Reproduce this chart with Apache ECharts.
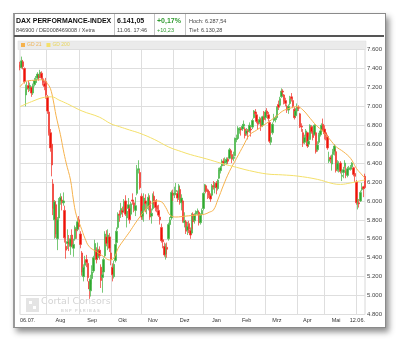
<!DOCTYPE html>
<html>
<head>
<meta charset="utf-8">
<script src="https://cdn.jsdelivr.net/npm/echarts@6/dist/echarts.min.js"></script>
<style>
html,body{margin:0;padding:0;background:#fff;width:400px;height:342px;overflow:hidden;font-family:Arial,"Liberation Sans",sans-serif;}
#card{position:absolute;left:13px;top:13px;width:370px;height:313px;background:#fff;border:1px solid #8a8a8a;border-left:2px solid #9a9a9a;box-shadow:3px 4px 6px rgba(0,0,0,.45);}
#head{position:absolute;left:14px;top:14px;width:370px;height:21px;border-bottom:2px solid #555;z-index:3;}
.cell{position:absolute;top:0;height:21px;border-right:1px solid #c4c4c4;}
.t1{position:absolute;left:2px;top:3px;font-weight:bold;font-size:7px;line-height:8px;color:#111;white-space:nowrap;}
.t2{position:absolute;left:2px;top:12.5px;font-size:5.5px;line-height:6px;color:#444;white-space:nowrap;}
.up{color:#2f9a2f;}
#chart{position:absolute;left:0;top:0;width:400px;height:342px;z-index:2;}
</style>
</head>
<body>
<div id="card"></div>
<div id="head">
  <div class="cell" style="left:0;width:100px;">
    <div class="t1">DAX PERFORMANCE-INDEX</div>
    <div class="t2">846900 / DE0008469008 / Xetra</div>
  </div>
  <div class="cell" style="left:101px;width:39px;">
    <div class="t1">6.141,05</div>
    <div class="t2">11.06. 17:46</div>
  </div>
  <div class="cell" style="left:141px;width:30px;">
    <div class="t1 up">+0,17%</div>
    <div class="t2 up">+10,23</div>
  </div>
  <div style="position:absolute;left:173px;top:0;width:150px;height:21px;">
    <div class="t2" style="top:4px;">Hoch: 6.287,54</div>
    <div class="t2" style="top:12.5px;">Tief: 6.130,28</div>
  </div>
</div>
<div id="chart"></div>
<script>
// Xetra sessions, 06.07.2011 - 11.06.2012
const sessions = [
'06.07.','07.07.','08.07.','11.07.','12.07.','13.07.','14.07.','15.07.','18.07.','19.07.','20.07.','21.07.','22.07.','25.07.','26.07.','27.07.','28.07.','29.07.',
'01.08.','02.08.','03.08.','04.08.','05.08.','08.08.','09.08.','10.08.','11.08.','12.08.','15.08.','16.08.','17.08.','18.08.','19.08.','22.08.','23.08.','24.08.','25.08.','26.08.','29.08.','30.08.','31.08.',
'01.09.','02.09.','05.09.','06.09.','07.09.','08.09.','09.09.','12.09.','13.09.','14.09.','15.09.','16.09.','19.09.','20.09.','21.09.','22.09.','23.09.','26.09.','27.09.','28.09.','29.09.','30.09.',
'03.10.','04.10.','05.10.','06.10.','07.10.','10.10.','11.10.','12.10.','13.10.','14.10.','17.10.','18.10.','19.10.','20.10.','21.10.','24.10.','25.10.','26.10.','27.10.','28.10.','31.10.',
'01.11.','02.11.','03.11.','04.11.','07.11.','08.11.','09.11.','10.11.','11.11.','14.11.','15.11.','16.11.','17.11.','18.11.','21.11.','22.11.','23.11.','24.11.','25.11.','28.11.','29.11.','30.11.',
'01.12.','02.12.','05.12.','06.12.','07.12.','08.12.','09.12.','12.12.','13.12.','14.12.','15.12.','16.12.','19.12.','20.12.','21.12.','22.12.','23.12.','27.12.','28.12.','29.12.','30.12.',
'02.01.','03.01.','04.01.','05.01.','06.01.','09.01.','10.01.','11.01.','12.01.','13.01.','16.01.','17.01.','18.01.','19.01.','20.01.','23.01.','24.01.','25.01.','26.01.','27.01.','30.01.','31.01.',
'01.02.','02.02.','03.02.','06.02.','07.02.','08.02.','09.02.','10.02.','13.02.','14.02.','15.02.','16.02.','17.02.','20.02.','21.02.','22.02.','23.02.','24.02.','27.02.','28.02.','29.02.',
'01.03.','02.03.','05.03.','06.03.','07.03.','08.03.','09.03.','12.03.','13.03.','14.03.','15.03.','16.03.','19.03.','20.03.','21.03.','22.03.','23.03.','26.03.','27.03.','28.03.','29.03.','30.03.',
'02.04.','03.04.','04.04.','05.04.','10.04.','11.04.','12.04.','13.04.','16.04.','17.04.','18.04.','19.04.','20.04.','23.04.','24.04.','25.04.','26.04.','27.04.','30.04.',
'02.05.','03.05.','04.05.','07.05.','08.05.','09.05.','10.05.','11.05.','14.05.','15.05.','16.05.','17.05.','18.05.','21.05.','22.05.','23.05.','24.05.','25.05.','28.05.','29.05.','30.05.','31.05.',
'01.06.','04.06.','05.06.','06.06.','07.06.','08.06.','11.06.'
];

const opens = [
7440,7410,7470,7400,7120,7180,7220,7180,7200,7140,7230,7250,7300,7320,7320,7350,7290,7240,
7260,7100,6940,6720,6600,6180,5800,5960,5600,5820,6000,6010,5980,5900,5520,5550,5560,5520,5640,5500,5600,5700,5700,
5800,5650,5450,5200,5320,5380,5340,5150,5050,5180,5260,5420,5480,5400,5480,5300,5190,5250,5420,5620,5560,5620,
5450,5300,5200,5370,5560,5720,5860,5860,5900,5900,6000,5820,5920,5920,5860,6010,5980,5900,6080,6330,6300,
6050,5840,5900,6000,5920,5940,6000,5840,5920,6050,5990,5950,5900,5830,5720,5590,5520,5440,5510,5600,5750,5820,
6080,6070,6100,6080,6040,6120,5980,6000,5770,5780,5690,5760,5690,5660,5860,5790,5860,5880,5880,5770,5860,
5920,6100,6160,6110,6100,6060,6060,6160,6140,6190,6130,6240,6320,6370,6420,6400,6410,6440,6450,6530,6490,6450,
6480,6650,6660,6750,6760,6760,6790,6760,6710,6740,6740,6760,6780,6880,6940,6910,6840,6830,6850,6800,6890,
6880,6950,6910,6830,6620,6720,6850,6860,6880,7020,7010,7100,7160,7120,7060,7000,6960,7030,7100,7060,6970,6900,
6950,6990,6920,6790,6720,6620,6680,6720,6600,6650,6780,6740,6700,6720,6540,6620,6700,6750,6810,
6760,6720,6680,6420,6460,6390,6490,6520,6520,6330,6330,6400,6260,6300,6370,6320,6270,6330,6340,6360,6350,6290,
6200,5970,5980,6000,6120,6150,6260
];
const closes = [
7410,7480,7420,7260,7180,7210,7190,7220,7140,7220,7270,7290,7340,7300,7360,7300,7250,7210,
7120,6950,6720,6560,6380,5920,5990,5650,5800,6000,6040,5980,6000,5610,5480,5570,5540,5600,5530,5540,5720,5690,5780,
5730,5540,5250,5300,5370,5350,5190,5070,5170,5250,5400,5550,5380,5490,5420,5160,5220,5380,5650,5550,5640,5500,
5380,5220,5330,5540,5680,5860,5850,5920,5880,5990,5860,5890,5960,5800,5970,6000,5920,5950,6330,6340,6140,
5830,5890,6030,5970,5930,6040,5830,5870,6060,5990,5930,5910,5850,5800,5580,5570,5430,5500,5490,5750,5800,6090,
6060,6080,6110,6030,6160,5990,6030,5790,5790,5680,5730,5700,5640,5850,5780,5850,5880,5890,5770,5850,5900,
6080,6170,6110,6100,6060,6020,6160,6150,6180,6140,6220,6330,6350,6420,6400,6420,6440,6420,6540,6510,6440,6460,
6660,6660,6770,6760,6750,6790,6810,6690,6740,6730,6800,6750,6850,6950,6920,6840,6810,6860,6790,6890,6860,
6940,6920,6870,6630,6670,6810,6880,6870,6990,6990,7080,7160,7150,7050,7030,6960,7000,7080,7080,7000,6880,6950,
6990,6980,6790,6780,6610,6670,6740,6580,6630,6800,6730,6670,6800,6520,6590,6700,6740,6800,6760,
6710,6690,6560,6440,6440,6480,6520,6580,6320,6400,6380,6310,6270,6330,6400,6280,6340,6340,6350,6400,6280,6260,
5980,5980,5970,6090,6140,6130,6141.05
];
const lows = [
7380,7400,7390,7240,7000,7150,7150,7160,7100,7120,7210,7230,7280,7270,7300,7280,7220,7170,
7080,6920,6690,6520,6260,5850,5600,5610,5480,5780,5960,5900,5950,5560,5390,5490,5470,5430,5510,5410,5580,5600,5680,
5700,5500,5210,5150,5280,5300,5150,4965,4990,5120,5240,5400,5340,5380,5380,5080,5030,5200,5400,5520,5480,5460,
5320,5150,5180,5350,5520,5700,5780,5820,5830,5880,5840,5720,5880,5760,5840,5960,5880,5840,6060,6290,6120,
5800,5800,5780,5880,5860,5900,5800,5760,5900,5960,5890,5880,5830,5750,5560,5500,5410,5380,5400,5580,5700,5800,
6000,6030,6060,5990,6010,5960,5900,5770,5720,5650,5640,5660,5600,5650,5700,5760,5820,5850,5740,5750,5840,
5900,6090,6080,6020,6030,5990,6050,6120,6080,6070,6110,6230,6290,6350,6370,6370,6380,6390,6440,6480,6400,6420,
6470,6620,6650,6710,6690,6740,6760,6660,6690,6650,6720,6680,6760,6870,6870,6820,6760,6810,6740,6780,6830,
6850,6900,6840,6610,6590,6700,6830,6830,6870,6960,7000,7090,7110,7020,7000,6930,6920,7010,7050,6980,6860,6880,
6910,6950,6770,6730,6570,6600,6650,6560,6570,6640,6710,6640,6690,6500,6520,6600,6680,6730,6740,
6650,6640,6540,6400,6400,6320,6460,6480,6300,6310,6300,6290,6210,6240,6340,6240,6250,6300,6320,6330,6260,6200,
5960,5910,5930,5990,6100,6040,6130.28
];
const highs = [
7470,7525,7490,7410,7230,7260,7270,7250,7210,7240,7300,7320,7360,7340,7385,7370,7320,7270,
7300,7120,6960,6760,6720,6230,6010,6000,5830,6030,6080,6050,6090,5950,5620,5700,5640,5640,5700,5600,5740,5760,5820,
5840,5680,5470,5330,5420,5430,5370,5180,5220,5320,5420,5590,5510,5560,5520,5330,5260,5400,5680,5690,5700,5660,
5500,5340,5370,5560,5720,5880,5900,5980,5940,6020,6060,5920,6030,5950,5990,6080,6010,6040,6380,6430,6330,
6080,5950,6080,6070,5990,6080,6060,5920,6080,6100,6010,6020,5960,5880,5760,5640,5560,5550,5560,5770,5830,6110,
6120,6150,6190,6110,6180,6150,6070,6010,5880,5800,5780,5790,5720,5870,5880,5870,5900,5920,5900,5870,5920,
6090,6180,6170,6130,6120,6080,6180,6210,6200,6210,6230,6350,6370,6440,6450,6460,6460,6460,6560,6550,6510,6520,
6670,6700,6790,6780,6780,6810,6850,6780,6770,6760,6830,6780,6870,6960,6970,6930,6870,6890,6880,6900,6950,
6960,6980,6940,6850,6700,6830,6920,6900,7000,7060,7100,7190,7180,7130,7090,7020,7020,7110,7140,7090,6990,6980,
7030,7010,6930,6820,6760,6700,6760,6730,6680,6810,6800,6790,6810,6730,6630,6720,6760,6820,6870,
6800,6750,6700,6520,6480,6490,6550,6600,6550,6430,6420,6420,6330,6360,6430,6370,6360,6370,6380,6410,6360,6340,
6220,6030,6020,6110,6190,6160,6287.54
];

// 21-day and 200-day averages: [session index, level]
const gd21 = [
[0,7205],[3,7255],[6,7270],[10,7275],[14,7280],[17,7275],[19,7240],[21,7190],[23,7066],[25,6900],[28,6700],
[30,6540],[32,6400],[35,6220],[37,6010],[39,5850],[42,5730],[45,5605],[48,5516],[53,5464],[58,5411],[62,5376],
[65,5395],[68,5500],[72,5590],[76,5675],[80,5767],[85,5870],[90,5960],[94,6000],[98,5990],[101,5930],[104,5850],
[108,5830],[115,5840],[122,5850],[128,5860],[131,5880],[134,5904],[137,6010],[141,6168],[145,6309],[150,6450],
[155,6591],[159,6697],[164,6749],[169,6802],[173,6844],[178,6900],[182,6950],[187,6979],[192,6996],[196,6961],
[201,6873],[205,6802],[210,6732],[215,6644],[219,6573],[224,6520],[229,6450],[233,6345],[237,6274],[239,6239]
];
const gd200 = [
[0,6996],[8,7049],[17,7095],[22,7100],[27,7066],[33,7025],[43,6950],[55,6885],[63,6815],[69,6784],[76,6749],
[83,6715],[93,6650],[103,6570],[112,6520],[118,6490],[129,6445],[140,6395],[150,6355],[159,6320],[171,6285],
[182,6275],[192,6263],[206,6228],[217,6182],[222,6175],[229,6190],[235,6210],[239,6222]
];

// first session of each month (vertical grid) and the labelled sessions
const monthStarts = [18,41,63,84,106,127,149,170,192,211,233];
const tickIdx = [0,28,50,71,92,114,136,157,178,199,219,239];
const tickLabels = ['06.07.','Aug','Sep','Okt','Nov','Dez','Jan','Feb','Mrz','Apr','Mai','12.06.'];

const candles = closes.map((c, i) => [opens[i], c, lows[i], highs[i]]);

const chart = echarts.init(document.getElementById('chart'), null, {renderer: 'canvas'});
chart.setOption({
  animation: false,
  backgroundColor: 'transparent',
  textStyle: {fontFamily: 'Arial, "Liberation Sans", sans-serif'},
  graphic: [
    {type: 'rect', shape: {x: 18, y: 41, width: 348, height: 8.5}, style: {fill: '#ebebeb', stroke: '#dedede', lineWidth: 0.5}, z: -10},
    {type: 'rect', shape: {x: 26, y: 298, width: 13, height: 14}, style: {fill: '#e4e4e4'}, z: -5},
    {type: 'rect', shape: {x: 29, y: 301, width: 3, height: 3}, style: {fill: '#fff'}, z: -4},
    {type: 'rect', shape: {x: 33, y: 306, width: 3, height: 3}, style: {fill: '#fff'}, z: -4},
    {type: 'text', style: {text: 'Cortal Consors', x: 41, y: 297, font: '9.5px "DejaVu Sans", sans-serif', fill: '#d4d4d4'}, z: -5},
    {type: 'text', style: {text: 'B N P   P A R I B A S', x: 61, y: 308.5, font: 'bold 4px Arial, sans-serif', fill: '#d6d6d6'}, z: -5}
  ],
  legend: {
    left: 21, top: 42.5, padding: 0, itemGap: 5, itemWidth: 4, itemHeight: 4, icon: 'rect',
    textStyle: {fontSize: 5, padding: [0, 0, 0, -3]},
    data: [
      {name: 'GD 21', textStyle: {color: '#efb455'}},
      {name: 'GD 200', textStyle: {color: '#e9d65c'}}
    ]
  },
  grid: {left: 20, right: 35, top: 49.5, bottom: 27.5, show: true, borderColor: '#d8d8d8', borderWidth: 1, backgroundColor: 'transparent'},
  xAxis: {
    type: 'category', data: sessions, boundaryGap: false,
    axisLine: {show: false}, axisTick: {show: false},
    splitLine: {show: true, interval: (i) => monthStarts.includes(i), lineStyle: {color: '#dedede', width: 1}},
    axisLabel: {
      interval: (i) => tickIdx.includes(i),
      formatter: (v, i) => tickLabels[tickIdx.indexOf(i)],
      fontSize: 5.5, color: '#333', margin: 3,
      showMinLabel: true, showMaxLabel: true, alignMinLabel: 'left', alignMaxLabel: 'right', hideOverlap: false
    }
  },
  yAxis: {
    type: 'value', position: 'right', min: 4800, max: 7600, interval: 200, scale: true,
    axisLine: {show: false}, axisTick: {show: false},
    splitLine: {lineStyle: {color: '#dedede', width: 1}},
    axisLabel: {fontSize: 6, color: '#444', margin: 2, formatter: (v) => String(v).replace(/\B(?=(\d{3})+(?!\d))/g, '.')}
  },
  series: [
    {
      name: 'DAX', type: 'candlestick', data: candles, barWidth: 2, clip: false,
      itemStyle: {color: '#2fa82f', color0: '#ee1208', borderColor: '#55bb55', borderColor0: '#f2453c', borderWidth: 0.8}
    },
    {name: 'GD 21', type: 'line', data: gd21, smooth: 0.4, symbol: 'none', color: '#f6b24c', lineStyle: {width: 1, color: '#f6b24c'}, z: 3},
    {name: 'GD 200', type: 'line', data: gd200, smooth: 0.4, symbol: 'none', color: '#f4e06a', lineStyle: {width: 1, color: '#f4e06a'}, z: 3}
  ]
});
</script>
</body>
</html>
